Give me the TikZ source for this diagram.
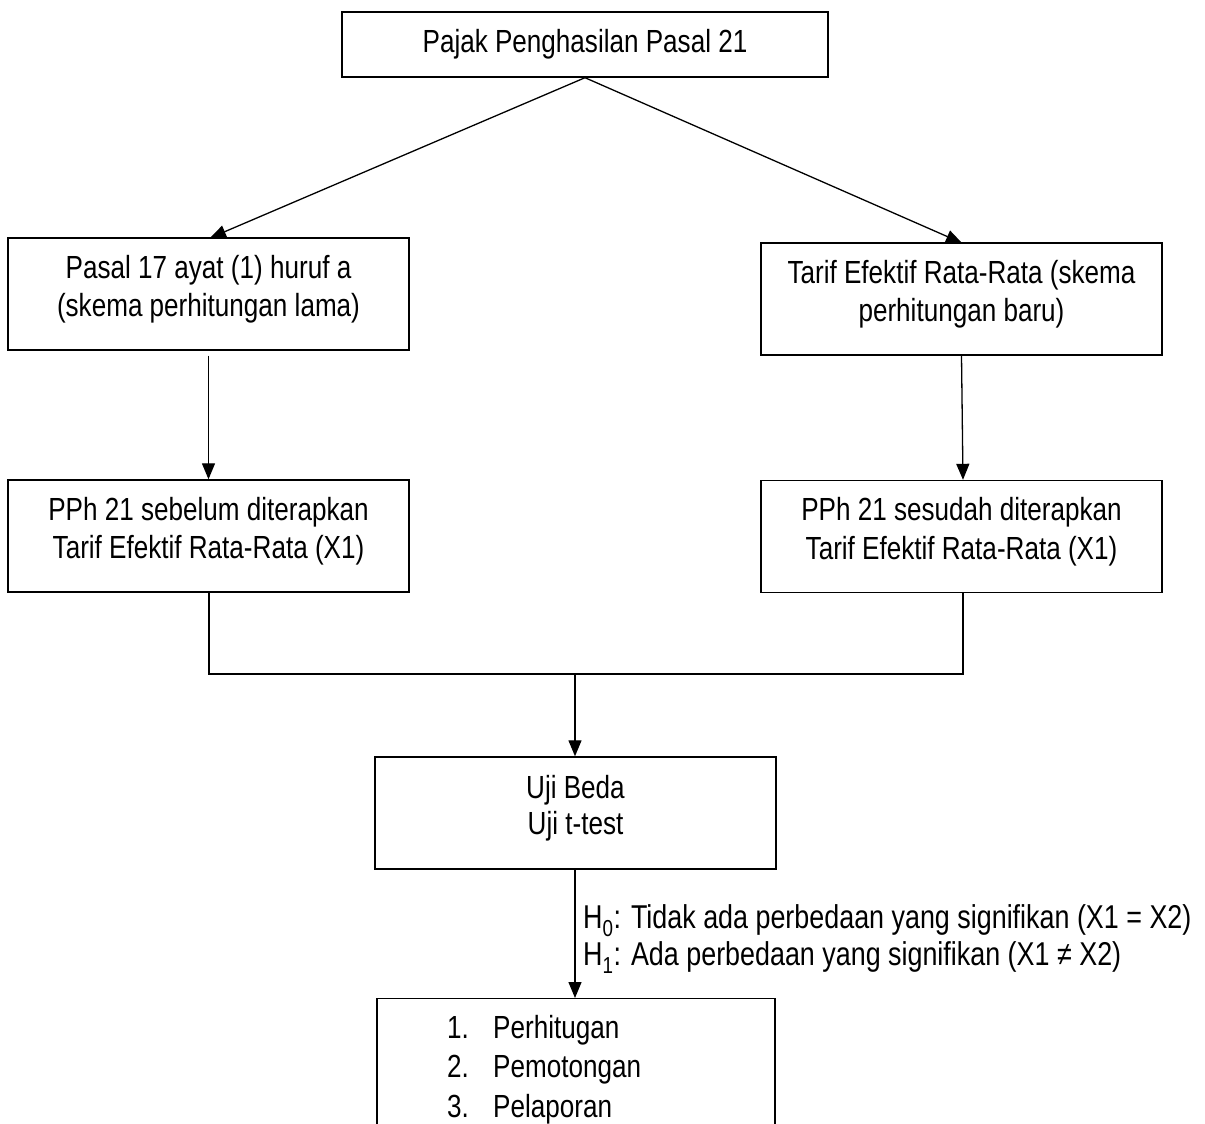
\documentclass[tikz,border=0pt]{standalone}
\usepackage{fontspec}
\setmainfont{Liberation Sans}[FakeStretch=0.815]
\usetikzlibrary{arrows.meta}
\begin{document}
\begin{tikzpicture}[x=1pt,y=-1pt,
  box/.style={draw=black,line width=1.4pt,minimum width=401pt,minimum height=112pt,inner sep=0pt},
  txt/.style={align=center,font=\fontsize{32}{38.5}\selectfont,inner sep=0pt},
  plain/.style={font=\fontsize{32}{38.5}\selectfont,inner sep=0pt},
  conn/.style={line width=1.3pt},
  arr/.style={line width=1.3pt,-{Triangle[length=16pt,width=13pt]}}]
\useasboundingbox (0,0) rectangle (1205,1124);
\clip (0,0) rectangle (1205,1124);
% boxes
\node[box,minimum width=486pt,minimum height=65pt] (top) at (585,44.5) {};
\node[box] (L1) at (208.5,294) {};
\node[box] (R1) at (961.5,299) {};
\node[box] (L2) at (208.5,536) {};
\node[box] (R2) at (961.5,536.5) {};
\node[box] (uji) at (575.5,813) {};
\node[box,minimum width=398pt,minimum height=160pt,anchor=north] (bot) at (576,998) {};
% texts
\node[txt] (topT) at (585,44) {Pajak Penghasilan Pasal 21};
\node[txt,yshift=5pt] (L1T) at (L1) {Pasal 17 ayat (1) huruf a\\(skema perhitungan lama)};
\node[txt,yshift=5pt] (R1T) at (R1) {Tarif Efektif Rata-Rata (skema\\perhitungan baru)};
\node[txt,yshift=5pt] (L2T) at (L2) {PPh 21 sebelum diterapkan\\Tarif Efektif Rata-Rata (X1)};
\node[txt,yshift=5pt] (R2T) at (R2) {PPh 21 sesudah diterapkan\\Tarif Efektif Rata-Rata (X1)};
\node[txt,yshift=5pt,font=\fontsize{32}{36.5}\selectfont] (ujiT) at (uji) {Uji Beda\\Uji t-test};
\node[plain,align=left,anchor=west,font=\fontsize{33}{37}\selectfont] (hyp) at (583,939) {H\textsubscript{0}: Tidak ada perbedaan yang signifikan (X1 = X2)\\H\textsubscript{1}: Ada perbedaan yang signifikan (X1 ≠ X2)};
\node[plain,anchor=base west] (n1) at (447,1038) {1.};
\node[plain,anchor=base west] (n2) at (447,1077) {2.};
\node[plain,anchor=base west] (n3) at (447,1117) {3.};
\node[plain,anchor=base west] (w1) at (493,1038) {Perhitugan};
\node[plain,anchor=base west] (w2) at (493,1077) {Pemotongan};
\node[plain,anchor=base west] (w3) at (493,1117) {Pelaporan};
% connectors
\coordinate (l1top) at (210,238);
\coordinate (r1top) at (962,243);
\draw[arr] (top.south) -- (l1top);
\draw[arr] (top.south) -- (r1top);
\draw[arr] ([yshift=-5pt]L1.south) -- (L2.north);
\draw[arr] (R1.south) -- ([xshift=1.5pt]R2.north);
\coordinate (jl) at (209,674);
\coordinate (jr) at (963,674);
\coordinate (jm) at (575,674);
\draw[conn] (L2.south -| jl) -- (jl) -- (jr) -- (R2.south -| jr);
\draw[arr] (jm) -- (uji.north -| jm);
\draw[arr] (uji.south -| jm) -- (bot.north -| jm);
\end{tikzpicture}
\end{document}
